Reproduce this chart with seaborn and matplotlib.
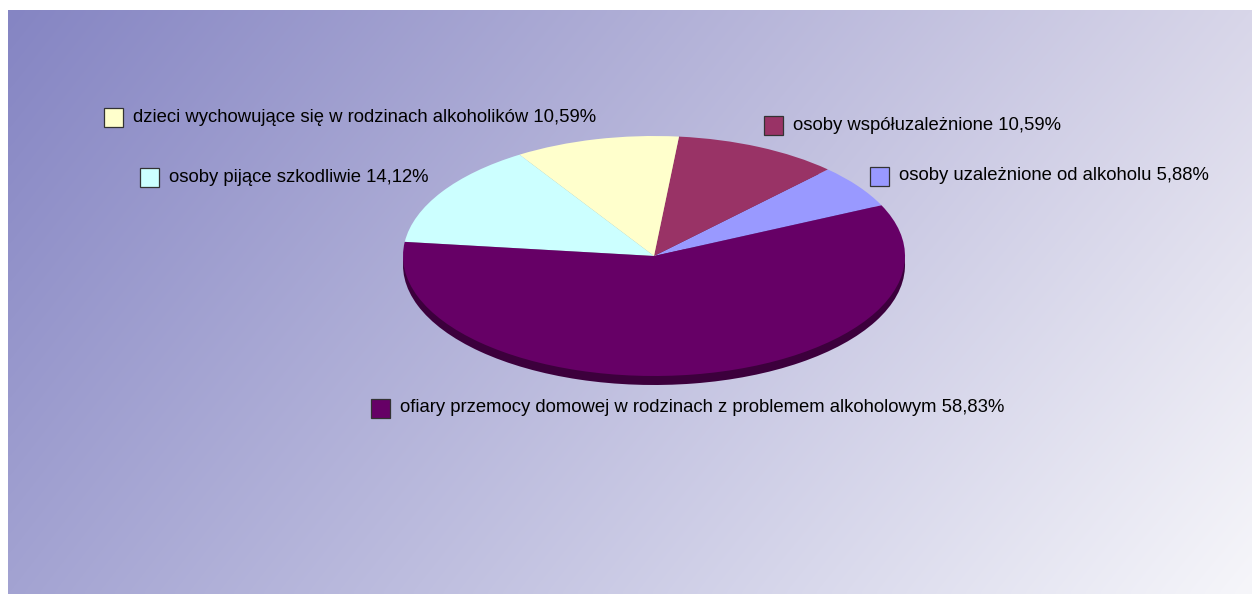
import numpy as np
import matplotlib
matplotlib.use("Agg")
import matplotlib.pyplot as plt
from matplotlib.patches import Rectangle
import seaborn as sns

# slices, counter-clockwise from the right side of the pie
labels = [
    "osoby uzależnione od alkoholu",
    "osoby współuzależnione",
    "dzieci wychowujące się w rodzinach alkoholików",
    "osoby pijące szkodliwie",
    "ofiary przemocy domowej w rodzinach z problemem alkoholowym",
]
shares = [5.88, 10.59, 10.59, 14.12, 58.83]
colors = ["#9999ff", "#993366", "#ffffcc", "#ccffff", "#660066"]
side_colors = ["#6b6bb3", "#6b2447", "#b3b38f", "#8fb3b3", "#3c003c"]

# label anchors (pixels from top-left of the 1252x595 image): square left, centre y
label_pos = [(870, 176), (764, 125), (104, 117), (140, 177), (371, 408)]

W, H = 1252, 595
sns.set_theme(style="white")
plt.rcParams["font.family"] = ["Liberation Sans", "DejaVu Sans"]

fig = plt.figure(figsize=(W / 100, H / 100), dpi=100)
fig.patch.set_facecolor("white")

# gradient background panel
bg = fig.add_axes([8 / W, 1 / H, (W - 8) / W, (594 - 10) / H])
tl = np.array([133, 133, 195]) / 255
tr = np.array([216, 214, 233]) / 255
bl = np.array([163, 163, 210]) / 255
br = np.array([246, 246, 250]) / 255
u = np.linspace(0, 1, 300)[None, :, None]
v = np.linspace(0, 1, 150)[:, None, None]
grad = (1 - v) * ((1 - u) * tl + u * tr) + v * ((1 - u) * bl + u * br)
bg.imshow(grad, aspect="auto", extent=(0, 1, 0, 1), origin="upper", interpolation="bicubic")
bg.set_axis_off()

# pie axes: ellipse centre (654, 256), radii 251 x 120 px
cx, cy, rx, ry = 654, 256, 251, 120
xl, yl_lo, yl_hi = 1.1, 1.2, 1.1
ax_w = 2 * xl * rx
ax_h = (yl_lo + yl_hi) * ry
ax = fig.add_axes([(cx - xl * rx) / W, (H - (cy + yl_lo * ry)) / H, ax_w / W, ax_h / H])
ax.patch.set_alpha(0)

depth = 9 / ry
ax.pie(shares, colors=side_colors, startangle=25, counterclock=True,
       center=(0, -depth), wedgeprops=dict(linewidth=0))
ax.pie(shares, colors=colors, startangle=25, counterclock=True,
       center=(0, 0), wedgeprops=dict(linewidth=0))
ax.set_aspect("auto")
ax.set_xlim(-xl, xl)
ax.set_ylim(-yl_lo, yl_hi)
ax.set_axis_off()

sq = 19
for lab, val, col, (px, py) in zip(labels, shares, colors, label_pos):
    fig.add_artist(Rectangle((px / W, (H - py - sq / 2) / H), sq / W, sq / H,
                             transform=fig.transFigure, facecolor=col,
                             edgecolor="#333333", linewidth=0.9))
    txt = f"{lab} {val:.2f}%".replace(".", ",")
    fig.text((px + sq + 10) / W, (H - py) / H, txt, fontsize=13.3,
             color="black", va="center", ha="left")

fig.savefig("out.png", dpi=100, facecolor="white")
